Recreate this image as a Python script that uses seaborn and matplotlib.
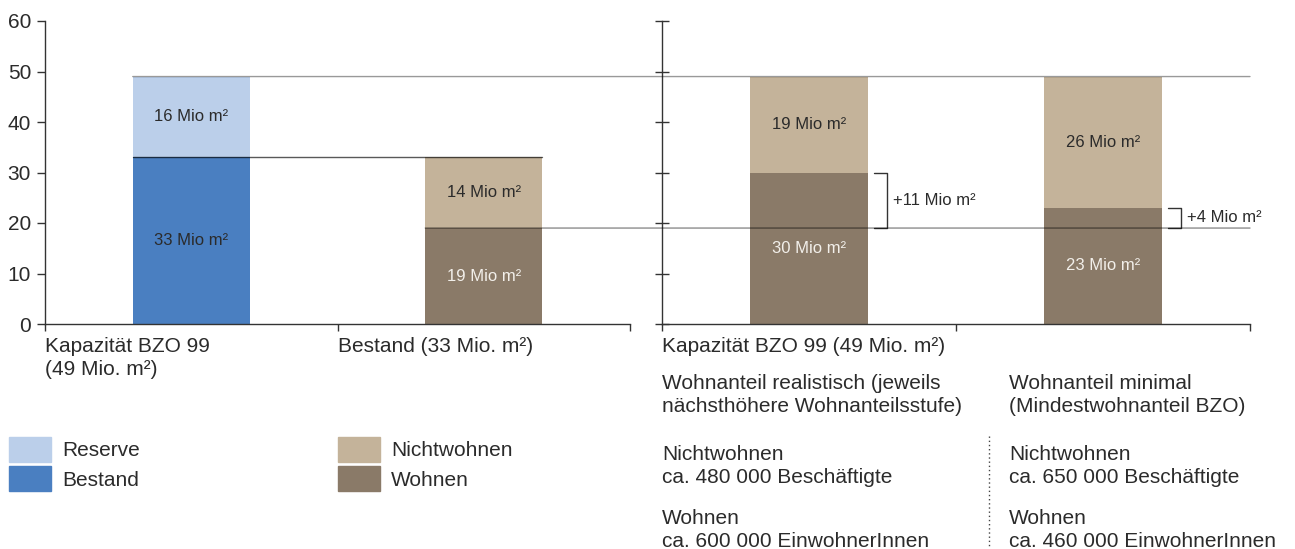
import matplotlib
matplotlib.use("Agg")
import matplotlib.pyplot as plt
import matplotlib.transforms as mtransforms
import seaborn as sns
import pandas as pd
from matplotlib.patches import Patch, ConnectionPatch
from matplotlib.lines import Line2D

# values in Mio. m2
left_cats = ["Kapazität BZO 99", "Bestand"]
left_lower = [33, 19]      # Bestand / Wohnen
left_upper = [16, 14]      # Reserve / Nichtwohnen
right_cats = ["realistisch", "minimal"]
right_wohnen = [30, 23]
right_nicht = [19, 26]

left_label_lines = [["Kapazität BZO 99", "(49 Mio. m²)"], ["Bestand (33 Mio. m²)"]]
right_title = "Kapazität BZO 99 (49 Mio. m²)"
scenario_lines = [["Wohnanteil realistisch (jeweils", "nächsthöhere Wohnanteilsstufe)"],
                  ["Wohnanteil minimal", "(Mindestwohnanteil BZO)"]]
jobs = ["ca. 480 000 Beschäftigte", "ca. 650 000 Beschäftigte"]
residents = ["ca. 600 000 EinwohnerInnen", "ca. 460 000 EinwohnerInnen"]
y_ticks = [0, 10, 20, 30, 40, 50, 60]

RESERVE = "#bbcfea"
BESTAND = "#4a7fc1"
NICHT = "#c4b39a"
WOHNEN = "#8a7a68"
TXT = "#2b2b2b"

W, H = 1295, 549
BIG = 15
SMALL = 12

sns.set_style("ticks")
plt.rcParams["font.family"] = ["Liberation Sans", "DejaVu Sans"]
plt.rcParams["text.color"] = TXT


def fx(px):
    return px / W


def fy(py):
    return 1 - py / H


def stacked(ax, cats, lower, upper, c_low, c_up, txt_low, txt_up):
    df = pd.DataFrame({"cat": cats, "lower": lower,
                       "total": [a + b for a, b in zip(lower, upper)]})
    sns.barplot(data=df, x="cat", y="total", hue="cat", palette=c_up, width=0.4,
                saturation=1, errorbar=None, legend=False, linewidth=0, ax=ax)
    sns.barplot(data=df, x="cat", y="lower", hue="cat", palette=c_low, width=0.4,
                saturation=1, errorbar=None, legend=False, linewidth=0, ax=ax)
    for i, (lo, up) in enumerate(zip(lower, upper)):
        ax.text(i, lo / 2, f"{lo} Mio m²", ha="center", va="center",
                fontsize=SMALL, color=txt_low[i])
        ax.text(i, lo + up / 2, f"{up} Mio m²", ha="center", va="center",
                fontsize=SMALL, color=txt_up[i])


def style_axis(ax):
    ax.set_xlim(-0.5, 1.5)
    ax.set_ylim(0, 60)
    ax.set_yticks(y_ticks)
    ax.set_xticks([-0.5, 0.5, 1.5])
    ax.set_xticklabels([])
    ax.set_xlabel("")
    ax.set_ylabel("")
    sns.despine(ax=ax)
    for s in ["left", "bottom"]:
        ax.spines[s].set_color("#333333")
        ax.spines[s].set_linewidth(1)
    ax.tick_params(axis="x", direction="out", length=5, width=1, color="#333333")


fig = plt.figure(figsize=(W / 100, H / 100), dpi=100)
ax1 = fig.add_axes([fx(45), fy(324), fx(630 - 45), (324 - 21) / H])
ax2 = fig.add_axes([fx(662), fy(324), fx(1250 - 662), (324 - 21) / H])

stacked(ax1, left_cats, left_lower, left_upper, [BESTAND, WOHNEN], [RESERVE, NICHT],
        [TXT, "#f2efea"], [TXT, TXT])
stacked(ax2, right_cats, right_wohnen, right_nicht, [WOHNEN, WOHNEN], [NICHT, NICHT],
        ["#f2efea", "#f2efea"], [TXT, TXT])

style_axis(ax1)
style_axis(ax2)
ax1.tick_params(axis="y", direction="out", length=6, width=1, color="#333333",
                labelsize=BIG, labelcolor=TXT, pad=4)
ax2.tick_params(axis="y", direction="inout", length=10, width=1, color="#333333",
                labelleft=False)

# reference lines
capacity = left_lower[0] + left_upper[0]
bestand_total = left_lower[1] + left_upper[1]
bestand_wohnen = left_lower[1]
half = 0.2
fig.add_artist(ConnectionPatch(xyA=(0 - half, capacity), coordsA=ax1.transData,
                               xyB=(1.5, capacity), coordsB=ax2.transData,
                               color="black", alpha=0.4, lw=1))
ax1.plot([0 - half, 1 + half], [bestand_total, bestand_total], color="black",
         alpha=0.65, lw=1, zorder=5)
fig.add_artist(ConnectionPatch(xyA=(1 - half, bestand_wohnen), coordsA=ax1.transData,
                               xyB=(1.5, bestand_wohnen), coordsB=ax2.transData,
                               color="black", alpha=0.45, lw=1))

# brackets showing the gain in Wohnen
for i, w in enumerate(right_wohnen):
    x0 = i + half + 0.02
    x1 = i + half + 0.065
    ax2.plot([x0, x1, x1, x0], [w, w, bestand_wohnen, bestand_wohnen],
             color="#333333", lw=1, clip_on=False, zorder=6)
    ax2.text(i + half + 0.085, (w + bestand_wohnen) / 2,
             f"+{w - bestand_wohnen} Mio m²", ha="left", va="center",
             fontsize=SMALL, color=TXT)

# category labels
for ax, i, lines in [(ax1, 0, left_label_lines[0]), (ax1, 1, left_label_lines[1]),
                     (ax2, 0, [right_title])]:
    tr = mtransforms.blended_transform_factory(ax.transData, fig.transFigure)
    for k, line in enumerate(lines):
        ax.text(i - 0.5, fy(352 + 23 * k), line, transform=tr, ha="left",
                va="baseline", fontsize=BIG, color=TXT, clip_on=False)

# scenario descriptions
for col, xpx in enumerate([662, 1009]):
    rows = scenario_lines[col] + ["Nichtwohnen", jobs[col], "Wohnen", residents[col]]
    for line, ypx in zip(rows, [389, 412, 460, 483, 524, 547]):
        fig.text(fx(xpx), fy(ypx), line, ha="left", va="baseline",
                 fontsize=BIG, color=TXT)

fig.add_artist(Line2D([fx(989), fx(989)], [fy(436), fy(549)], color="#444444",
                      lw=1, linestyle=(0, (1, 2))))

# legends
leg_kw = dict(loc="upper left", frameon=False, fontsize=BIG, handlelength=2.0,
              handleheight=1.47, labelspacing=0.2, handletextpad=0.55,
              borderpad=0, borderaxespad=0)
fig.legend(handles=[Patch(color=RESERVE), Patch(color=BESTAND)],
           labels=["Reserve", "Bestand"], bbox_to_anchor=(fx(9), fy(437)), **leg_kw)
fig.legend(handles=[Patch(color=NICHT), Patch(color=WOHNEN)],
           labels=["Nichtwohnen", "Wohnen"], bbox_to_anchor=(fx(338), fy(437)), **leg_kw)

fig.savefig("out.png", dpi=100)
